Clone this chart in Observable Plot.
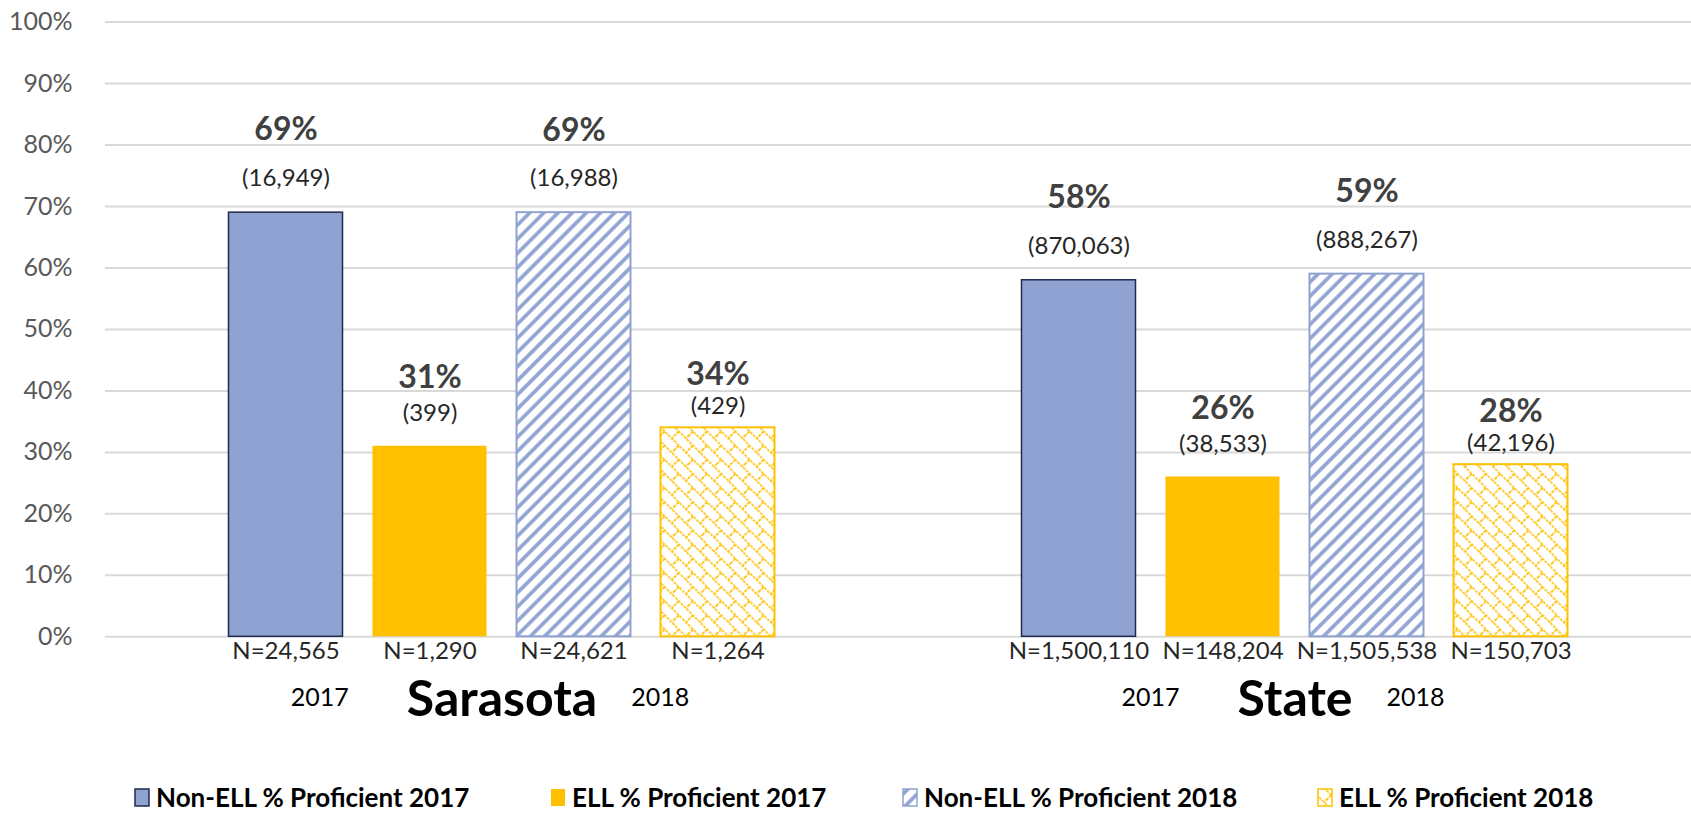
<!DOCTYPE html>
<html>
<head>
<meta charset="utf-8">
<script src="https://cdn.jsdelivr.net/npm/d3@7"></script>
<script src="https://cdn.jsdelivr.net/npm/@observablehq/plot@0.6"></script>
<style>
  body { margin: 0; background: #fff; font-family: Lato, "Open Sans", sans-serif; }
  #legend { position: relative; height: 44px; width: 1691px; }
  .item { position: absolute; top: 0; height: 44px; display: flex; align-items: center; font-weight: 700; font-size: 26px; color: #000; white-space: nowrap; }
  .item svg { margin-right: 6px; }
</style>
</head>
<body>
<svg width="0" height="0" style="position:absolute">
  <defs>
    <pattern id="stripes" patternUnits="userSpaceOnUse" width="10" height="10" patternTransform="rotate(45)">
      <rect width="10" height="10" fill="#fff"></rect>
      <line x1="5" y1="0" x2="5" y2="10" stroke="#8FA2D1" stroke-width="3.6"></line>
    </pattern>
    <pattern id="lattice" patternUnits="userSpaceOnUse" width="20" height="20" patternTransform="rotate(45)">
      <rect width="20" height="20" fill="#fff"></rect>
      <path d="M0,5H20M0,15H20M5,5V15M15,15V20M15,0V5" stroke="#FFC000" stroke-width="1.7" stroke-dasharray="3,1" fill="none"></path>
    </pattern>
  </defs>
</svg>
<div id="chart"></div>
<div id="legend"></div>
<script>
// ---- data ----
const groups = ["Sarasota", "State"];
const series = ["Non-ELL % Proficient 2017", "ELL % Proficient 2017", "Non-ELL % Proficient 2018", "ELL % Proficient 2018"];
const yearLabels = ["2017", "2018"];
const pctSarasota = [0.69, 0.31, 0.69, 0.34];
const pctState = [0.58, 0.26, 0.59, 0.28];
const proficientSarasota = [16949, 399, 16988, 429];
const proficientState = [870063, 38533, 888267, 42196];
const nSarasota = [24565, 1290, 24621, 1264];
const nState = [1500110, 148204, 1505538, 150703];
const yTicks = [0, 0.1, 0.2, 0.3, 0.4, 0.5, 0.6, 0.7, 0.8, 0.9, 1.0];

// ---- styles ----
const styles = [
  {fill: "#8FA2D1", stroke: "#1F2A4F", strokeWidth: 1.5, pctDy: -83, countDy: -34},
  {fill: "#FFC000", stroke: "none", strokeWidth: 0, pctDy: -68, countDy: -33},
  {fill: "url(#stripes)", stroke: "#8FA2D1", strokeWidth: 2, pctDy: -82, countDy: -34},
  {fill: "url(#lattice)", stroke: "#FFC000", strokeWidth: 2, pctDy: -53, countDy: -21}
];
const legendLeft = [134, 550, 902, 1317];

const pcts = [pctSarasota, pctState];
const profs = [proficientSarasota, proficientState];
const ns = [nSarasota, nState];
const rows = [];
groups.forEach((g, gi) => series.forEach((s, si) => rows.push({group: g, series: s, si, pct: pcts[gi][si], prof: profs[gi][si], n: ns[gi][si]})));
const nameRows = groups.map(g => ({group: g}));

const fmtPct = d3.format(".0%");
const fmtInt = d3.format(",");

const marks = [
  Plot.gridY(yTicks, {stroke: "#d9d9d9", strokeWidth: 2, strokeOpacity: 1}),
  Plot.axisY(yTicks, {tickFormat: fmtPct, tickSize: 0, tickPadding: 33, fontSize: 25, color: "#595959", label: null})
];
series.forEach((s, si) => {
  const st = styles[si];
  const data = rows.filter(d => d.si === si);
  marks.push(Plot.barY(data, {fx: "group", x: "series", y: "pct", fill: st.fill, stroke: st.stroke, strokeWidth: st.strokeWidth}));
  marks.push(Plot.text(data, {fx: "group", x: "series", y: "pct", text: d => fmtPct(d.pct), dy: st.pctDy, fontSize: 32, fontWeight: "bold", fill: "#404040"}));
  marks.push(Plot.text(data, {fx: "group", x: "series", y: "pct", text: d => `(${fmtInt(d.prof)})`, dy: st.countDy, fontSize: 24, fill: "#262626"}));
});
marks.push(Plot.text(rows, {fx: "group", x: "series", frameAnchor: "bottom", text: d => `N=${fmtInt(d.n)}`, dy: 22, fontSize: 24, fill: "#262626"}));
marks.push(Plot.text(nameRows, {fx: "group", frameAnchor: "bottom", text: "group", dy: 79, fontSize: 50, fontWeight: "bold", fill: "#000"}));
marks.push(Plot.text(nameRows, {fx: "group", frameAnchor: "bottom", text: () => yearLabels[0], textAnchor: "end", dy: 69, fontSize: 25, fill: "#000"}));
marks.push(Plot.text(nameRows, {fx: "group", frameAnchor: "bottom", text: () => yearLabels[1], textAnchor: "start", dy: 69, fontSize: 25, fill: "#000"}));

const chart = Plot.plot({
  width: 1691,
  height: 775,
  marginTop: 21.6,
  marginBottom: 138.7,
  marginLeft: 105,
  marginRight: 0,
  style: {fontFamily: "Lato, 'Open Sans', sans-serif", background: "white", overflow: "visible"},
  fx: {domain: groups, padding: 0, axis: null, round: false},
  x: {domain: series, paddingInner: 0.2083, paddingOuter: 0.8576, axis: null, round: false},
  y: {domain: [0, 1], axis: null},
  marks
});
document.getElementById("chart").appendChild(chart);

// place the year labels beside each group name
const texts = [...chart.querySelectorAll("text")];
const names = texts.filter(t => groups.includes(t.textContent));
names.forEach(nameEl => {
  const nr = nameEl.getBoundingClientRect();
  const cx = nr.left + nr.width / 2;
  texts.filter(t => yearLabels.includes(t.textContent)).forEach(t => {
    const r = t.getBoundingClientRect();
    const tcx = t.textContent === yearLabels[0] ? r.right : r.left;
    if (Math.abs(tcx - cx) < 5) {
      const shift = t.textContent === yearLabels[0] ? -(nr.width / 2 + 58) : (nr.width / 2 + 34);
      t.setAttribute("transform", (t.getAttribute("transform") || "") + ` translate(${shift},0)`);
    }
  });
});

// legend
const legend = d3.select("#legend");
series.forEach((s, si) => {
  const st = styles[si];
  const item = legend.append("div").attr("class", "item").style("left", legendLeft[si] + "px");
  const sw = item.append("svg").attr("width", 16).attr("height", 19);
  sw.append("rect").attr("x", 1).attr("y", 1).attr("width", 14).attr("height", 17)
    .attr("fill", st.fill).attr("stroke", st.stroke === "none" ? "none" : st.stroke).attr("stroke-width", 1.5);
  item.append("span").text(s);
});
</script>
</body>
</html>
